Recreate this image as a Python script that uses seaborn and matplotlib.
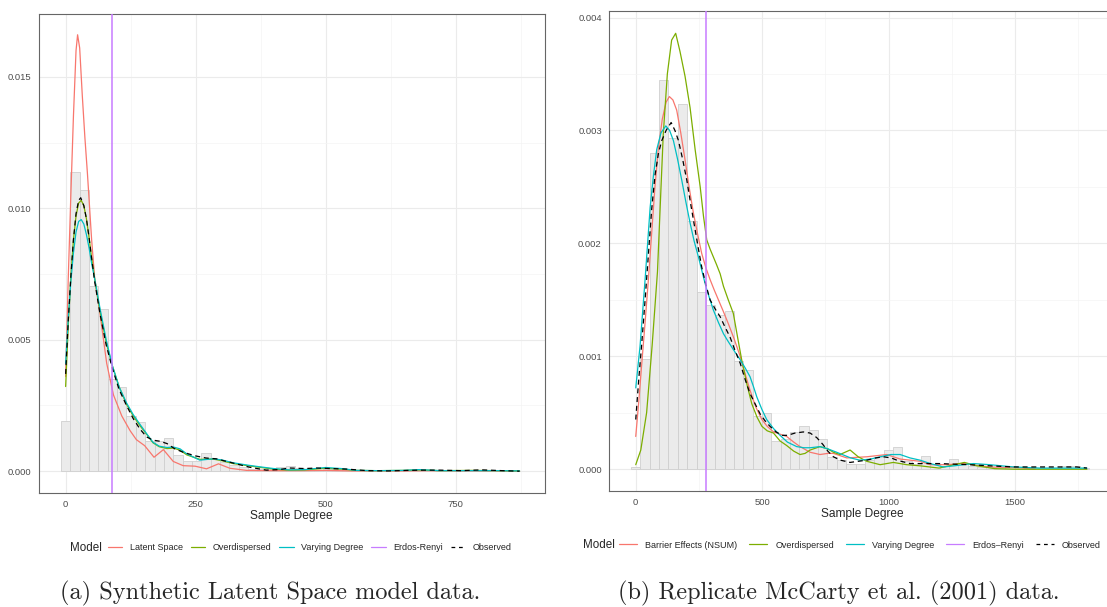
import numpy as np
import pandas as pd
import matplotlib
matplotlib.use("Agg")
import matplotlib.pyplot as plt
import seaborn as sns
from matplotlib.lines import Line2D
from matplotlib.ticker import MultipleLocator

# ---------------- panel (a): synthetic latent space data ----------------
a_bin_width = 18
a_hist = [0.00192, 0.01137, 0.0107, 0.00704, 0.00618, 0.0035, 0.00322, 0.00209, 0.00186, 0.00114,
          0.00114, 0.00125, 0.00063, 0.0004, 0.0004, 0.0007, 0.00047, 0.00034, 0.00022, 0.00015,
          0.0001, 0.00008, 0.0001, 0.00015, 0.00018, 0.00012, 0.00006, 0.00005, 0.0001, 0.00008,
          0.00006, 0.00004, 0.00003, 0.00002, 0.00004, 0.00006, 0.00004, 0.00003, 0.00002, 0.00002,
          0.00004, 0.00003, 0.00002, 0.00002, 0.00002, 0.00001, 0.00001, 0.00001, 0.00001]

a_latent_x = [0, 5, 10, 15, 20, 23, 27, 32, 37, 42, 50, 56, 66, 79, 92, 108, 124, 136, 152, 170,
              188, 207, 226, 249, 271, 294, 316, 348, 400, 450, 500, 550, 600, 650, 700, 750, 800, 873]
a_latent_y = [0.0036, 0.0073, 0.0105, 0.0135, 0.0160, 0.0166, 0.0161, 0.0143, 0.0127, 0.0113,
              0.0088, 0.0073, 0.0060, 0.0041, 0.0029, 0.0021, 0.00154, 0.0012, 0.00097, 0.00053,
              0.00082, 0.00037, 0.00021, 0.00019, 0.00009, 0.00028, 0.00011, 0.00003, 0.00002, 0.00002,
              0.00003, 0.00001, 0.00001, 0.00001, 0.00002, 0.00001, 0.00001, 0.0]

a_grid_x = [0, 5, 10, 15, 20, 25, 30, 35, 40, 45, 50, 56, 66, 78, 90, 103, 117, 130, 143, 156,
            168, 180, 195, 207, 220, 233, 258, 284, 300, 322, 350, 372, 400, 430, 460, 500, 530, 560,
            600, 650, 680, 720, 780, 830, 873]
a_overdisp_y = [0.00322, 0.0055, 0.0074, 0.0088, 0.0097, 0.0102, 0.0103, 0.0101, 0.0096, 0.0089,
                0.0081, 0.0073, 0.0061, 0.0049, 0.0040, 0.0032, 0.00255, 0.0021, 0.00173, 0.0014,
                0.00108, 0.00093, 0.00086, 0.00088, 0.0008, 0.00062, 0.00045, 0.00046, 0.0004, 0.00029,
                0.00021, 0.00015, 0.00008, 0.00004, 0.00005, 0.00011, 0.00008, 0.00003, 0.00002, 0.00003,
                0.00005, 0.00002, 0.00003, 0.00002, 0.00001]
a_varying_y = [0.0041, 0.0058, 0.0072, 0.0083, 0.0091, 0.0095, 0.00957, 0.0094, 0.0090, 0.0085,
               0.0079, 0.0073, 0.0062, 0.0050, 0.0040, 0.0032, 0.0026, 0.00215, 0.00178, 0.00142,
               0.0011, 0.00095, 0.0009, 0.00092, 0.00085, 0.00066, 0.00042, 0.00047, 0.00043, 0.00032,
               0.00023, 0.00017, 0.0001, 0.00005, 0.00006, 0.00014, 0.0001, 0.00003, 0.00002, 0.00003,
               0.00006, 0.00002, 0.00002, 0.00002, 0.00001]

a_obs_x = [0, 5, 10, 15, 20, 25, 29, 35, 40, 45, 50, 56, 66, 78, 90, 103, 117, 130, 143, 156,
           168, 181, 195, 210, 226, 250, 270, 290, 320, 354, 386, 410, 431, 460, 483, 510, 540, 580,
           620, 680, 720, 760, 800, 840, 873]
a_obs_y = [0.0037, 0.0057, 0.0074, 0.0088, 0.0098, 0.0103, 0.0104, 0.0101, 0.0096, 0.0089,
           0.0081, 0.0072, 0.0060, 0.0048, 0.0039, 0.0031, 0.0025, 0.0020, 0.0016, 0.0013,
           0.00118, 0.00114, 0.00105, 0.00085, 0.00072, 0.00058, 0.0005, 0.00047, 0.00032, 0.00015,
           0.00004, 0.00006, 0.00012, 0.0001, 0.00012, 0.0001, 0.00008, 0.00002, 0.00001, 0.00004,
           0.00004, 0.00002, 0.00005, 0.00002, 0.0]
a_erdos = 90

# ---------------- panel (b): McCarty et al. (2001) replicate ----------------
b_bin_width = 37
b_hist = [0.00002, 0.00098, 0.0028, 0.00345, 0.00293, 0.00323, 0.0022, 0.00157, 0.00145, 0.00137,
          0.0014, 0.00096, 0.00088, 0.00047, 0.0005, 0.00025, 0.00027, 0.00033, 0.00038, 0.00035,
          0.00027, 0.00011, 0.00008, 0.00005, 0.00005, 0.00008, 0.00011, 0.00017, 0.0002, 0.00007,
          0.00005, 0.00012, 0.00005, 0.00003, 0.00009, 0.00005, 0.00003, 0.00002, 0.00002, 0.00002,
          0.00003, 0.00002, 0.00001, 0.00001, 0.00001, 0.00001, 0.00003, 0.00003, 0.00001]

b_barrier_x = [0, 12, 24, 37, 50, 63, 76, 89, 105, 120, 133, 147, 162, 178, 195, 211, 228, 245, 261, 278,
               294, 310, 327, 346, 366, 390, 413, 432, 452, 475, 499, 520, 545, 571, 597, 625, 650, 690,
               729, 760, 782, 835, 914, 993, 1046, 1125, 1165, 1230, 1296, 1400, 1494, 1540, 1580]
b_barrier_y = [0.00029, 0.0006, 0.00094, 0.0013, 0.00168, 0.00209, 0.0025, 0.00283, 0.0031, 0.00325,
               0.0033, 0.00327, 0.00318, 0.00298, 0.00274, 0.0025, 0.00227, 0.00208, 0.00191, 0.00178,
               0.00168, 0.00159, 0.0015, 0.0014, 0.00129, 0.00115, 0.001, 0.00085, 0.0007, 0.00055,
               0.00044, 0.00038, 0.00033, 0.00031, 0.00029, 0.00024, 0.0002, 0.00015, 0.00013, 0.00014,
               0.00014, 0.0001, 0.00011, 0.00013, 0.00009, 0.00007, 0.00004, 0.00004, 0.00005, 0.00002,
               0.000015, 0.00001, 0.0]

b_overdisp_x = [0, 20, 43, 65, 86, 100, 109, 125, 142, 158, 175, 195, 215, 235, 255, 268, 281, 294, 307, 320,
                334, 347, 366, 386, 402, 419, 440, 459, 480, 499, 520, 545, 571, 597, 625, 650, 670, 690,
                729, 760, 782, 808, 848, 880, 914, 967, 1019, 1072, 1125, 1200, 1260, 1300, 1350, 1420,
                1500, 1785]
b_overdisp_y = [0.00004, 0.00017, 0.0005, 0.0011, 0.00175, 0.0025, 0.00297, 0.0035, 0.0038, 0.00386,
                0.0037, 0.00348, 0.0032, 0.00283, 0.0025, 0.00224, 0.00203, 0.00195, 0.00188, 0.00181,
                0.00173, 0.00162, 0.0015, 0.00138, 0.00118, 0.00097, 0.00075, 0.00058, 0.00046, 0.00038,
                0.00034, 0.00032, 0.00025, 0.00021, 0.00016, 0.00013, 0.00014, 0.00017, 0.0002, 0.00018,
                0.00015, 0.00013, 0.00017, 0.00011, 0.00007, 0.00004, 0.00006, 0.00004, 0.00003, 0.00001,
                0.00004, 0.00006, 0.00003, 0.000005, 0.0, 0.0]

b_varying_x = [0, 17, 37, 57, 70, 83, 100, 119, 134, 149, 165, 182, 198, 215, 231, 248, 268, 281, 294, 307,
               327, 347, 366, 386, 413, 432, 452, 466, 479, 499, 518, 545, 571, 600, 637, 665, 690, 729,
               760, 795, 850, 887, 930, 967, 1010, 1046, 1085, 1125, 1165, 1217, 1260, 1336, 1400, 1494,
               1600, 1690, 1785]
b_varying_y = [0.00072, 0.00109, 0.00168, 0.00232, 0.0026, 0.00283, 0.00298, 0.00304, 0.003, 0.00291,
               0.00275, 0.00256, 0.00237, 0.00218, 0.00202, 0.00188, 0.0017, 0.00159, 0.0015, 0.00141,
               0.0013, 0.0012, 0.00113, 0.00106, 0.00097, 0.0009, 0.00082, 0.00073, 0.00064, 0.00053,
               0.00044, 0.00036, 0.0003, 0.00024, 0.0002, 0.00019, 0.00019, 0.0002, 0.00018, 0.00015,
               0.0001, 0.00008, 0.00009, 0.00011, 0.00013, 0.00013, 0.0001, 0.00008, 0.00005, 0.00002,
               0.00003, 0.00005, 0.00004, 0.00002, 0.00001, 0.00001, 0.00001]

b_obs_x = [0, 12, 24, 37, 50, 63, 76, 90, 103, 120, 140, 155, 169, 185, 202, 218, 235, 248, 261, 278,
           294, 314, 334, 353, 373, 393, 413, 432, 452, 472, 492, 511, 531, 555, 580, 600, 630, 663,
           690, 716, 740, 760, 782, 810, 848, 880, 914, 950, 980, 1010, 1033, 1085, 1152, 1200, 1257,
           1320, 1400, 1494, 1600, 1700, 1745, 1785]
b_obs_y = [0.00044, 0.0008, 0.00112, 0.0015, 0.0019, 0.0023, 0.0026, 0.0028, 0.00291, 0.003,
           0.00307, 0.003, 0.00291, 0.00275, 0.00256, 0.00234, 0.00212, 0.00195, 0.00179, 0.00163,
           0.0015, 0.00142, 0.00135, 0.00126, 0.00117, 0.00105, 0.00094, 0.0008, 0.00067, 0.00058,
           0.00049, 0.00043, 0.00038, 0.00033, 0.0003, 0.0003, 0.00032, 0.00033, 0.00032, 0.00028,
           0.00022, 0.00016, 0.00011, 0.00008, 0.00006, 0.00007, 0.00008, 0.0001, 0.00011, 0.0001,
           0.00008, 0.00005, 0.00005, 0.00005, 0.000045, 0.00004, 0.00003, 0.00002, 0.00002, 0.00002,
           0.00002, 0.00001]
b_erdos = 278

RED, GREEN, CYAN, PURPLE = "#F8766D", "#7CAE00", "#00BFC4", "#C77CFF"

sns.set_style("whitegrid")
plt.rcParams['font.family'] = ['Liberation Sans', 'DejaVu Sans']


def draw_panel(ax, hist, width, curves, erdos, xlim, ylim, xstep, ystep):
    # histogram of observed degrees (bin heights given directly as weights)
    df = pd.DataFrame({"degree": np.arange(len(hist)) * width, "density": hist})
    sns.histplot(data=df, x="degree", weights="density", binwidth=width,
                 binrange=(-width / 2, (len(hist) - 0.5) * width), stat="count",
                 color="#EBEBEB", edgecolor="#CFCFCF", linewidth=0.6, alpha=1, ax=ax, zorder=2)
    for xs, ys, col, ls in curves:
        sns.lineplot(x=xs, y=ys, color=col, linestyle=ls, linewidth=0.9, ax=ax, zorder=3,
                     estimator=None, sort=False)
    ax.axvline(erdos, color=PURPLE, linewidth=1.1, zorder=3)

    ax.set_xlim(*xlim)
    ax.set_ylim(*ylim)
    ax.xaxis.set_major_locator(MultipleLocator(xstep))
    ax.xaxis.set_minor_locator(MultipleLocator(xstep / 2))
    ax.yaxis.set_major_locator(MultipleLocator(ystep))
    ax.yaxis.set_minor_locator(MultipleLocator(ystep / 2))
    ax.grid(which="major", color="#EBEBEB", linewidth=0.8)
    ax.grid(which="minor", color="#F4F4F4", linewidth=0.5)
    ax.set_axisbelow(True)
    ax.tick_params(axis="both", which="major", direction="out", length=3, width=0.6,
                   color="#333333", labelsize=6.8, labelcolor="#4D4D4D", pad=2)
    ax.tick_params(axis="both", which="minor", length=0)
    for sp in ax.spines.values():
        sp.set_color("#666666")
        sp.set_linewidth(0.8)
    ax.set_xlabel("Sample Degree", fontsize=8.6, labelpad=1)
    ax.set_ylabel("")


fig = plt.figure(figsize=(11.07, 6.07), dpi=100)
W, H = 1107, 607
ax1 = fig.add_axes([38.6 / W, 1 - 493 / H, (545 - 38.6) / W, (493 - 14) / H])
ax2 = fig.add_axes([608.7 / W, 1 - 491 / H, (1116 - 608.7) / W, (491 - 11.3) / H])

draw_panel(ax1, a_hist, a_bin_width,
           [(a_latent_x, a_latent_y, RED, "-"),
            (a_grid_x, a_overdisp_y, GREEN, "-"),
            (a_grid_x, a_varying_y, CYAN, "-"),
            (a_obs_x, a_obs_y, "black", (0, (4, 3)))],
           a_erdos, (-52, 922), (-0.00083, 0.01739), 250, 0.005)
ax1.yaxis.set_major_formatter(matplotlib.ticker.FormatStrFormatter("%.3f"))

draw_panel(ax2, b_hist, b_bin_width,
           [(b_barrier_x, b_barrier_y, RED, "-"),
            (b_overdisp_x, b_overdisp_y, GREEN, "-"),
            (b_varying_x, b_varying_y, CYAN, "-"),
            (b_obs_x, b_obs_y, "black", (0, (4, 3)))],
           b_erdos, (-107, 1900), (-0.000193, 0.004055), 500, 0.001)
ax2.yaxis.set_major_formatter(matplotlib.ticker.FormatStrFormatter("%.3f"))


def legend_handles():
    return [Line2D([], [], color=RED, lw=0.9),
            Line2D([], [], color=GREEN, lw=0.9),
            Line2D([], [], color=CYAN, lw=0.9),
            Line2D([], [], color=PURPLE, lw=0.9),
            Line2D([], [], color="black", lw=0.9, linestyle=(0, (3, 3)))]


a_labels = ["Latent Space", "Overdispersed", "Varying Degree", "Erdos-Renyi", "Observed"]
b_labels = ["Barrier Effects (NSUM)", "Overdispersed", "Varying Degree", "Erdos\u2013Renyi", "Observed"]

fig.text(70 / W, 1 - 548 / H, "Model", fontsize=8.4, va="center", ha="left")
fig.legend(legend_handles(), a_labels, loc="center left", bbox_to_anchor=(108 / W, 1 - 548 / H),
           ncol=5, frameon=False, fontsize=6.5, handlelength=1.6, handletextpad=0.8,
           columnspacing=0.9, borderpad=0, borderaxespad=0)

fig.text(583 / W, 1 - 545 / H, "Model", fontsize=8.4, va="center", ha="left")
fig.legend(legend_handles(), b_labels, loc="center left", bbox_to_anchor=(619 / W, 1 - 545 / H),
           ncol=5, frameon=False, fontsize=6.5, handlelength=2.0, handletextpad=0.9,
           columnspacing=1.3, borderpad=0, borderaxespad=0)

fig.text(60 / W, 1 - 593 / H, "(a) Synthetic Latent Space model data.", fontsize=17.5,
         family="cmr10", va="center", ha="left")
fig.text(618 / W, 1 - 593 / H, "(b) Replicate McCarty et al. (2001) data.", fontsize=17.5,
         family="cmr10", va="center", ha="left")

fig.savefig("out.png", dpi=100)
